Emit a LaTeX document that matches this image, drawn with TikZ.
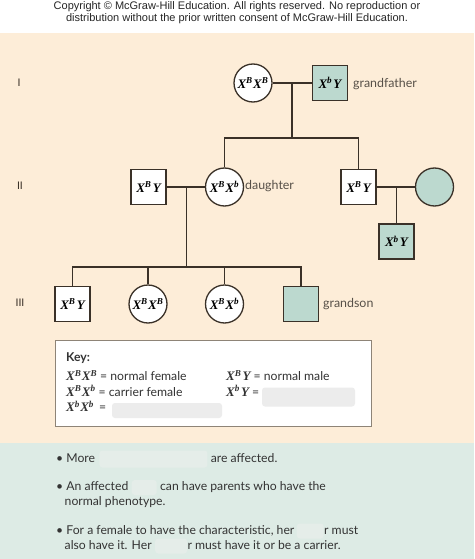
\documentclass[tikz,border=0pt]{standalone}
\usepackage{fontspec}
\setmainfont{Lato}
\newfontfamily\copyfont{Liberation Sans}
\newfontfamily\genofont{Liberation Serif}
\usetikzlibrary{positioning}

\definecolor{cream}{HTML}{FDEDD8}
\definecolor{sage}{HTML}{BCD9CF}
\definecolor{mint}{HTML}{DDEBE5}
\definecolor{ink}{HTML}{3A3128}
\definecolor{keyline}{HTML}{8E8477}
\definecolor{fogkey}{HTML}{ECECEC}
\definecolor{fogmint}{HTML}{E5EDE9}

\newcommand{\genF}[2]{{\genofont\fontsize{13}{15}\selectfont\bfseries\itshape X\textsuperscript{#1}\kern.4pt X\textsuperscript{#2}}}
\newcommand{\genM}[1]{{\genofont\fontsize{13}{15}\selectfont\bfseries\itshape X\textsuperscript{#1}\kern1.2pt Y}}

\begin{document}
\begin{tikzpicture}[x=1pt,y=-1pt,
  male/.style={draw=ink,line width=1.3pt,fill=white,minimum size=35pt,inner sep=0pt},
  female/.style={circle,draw=ink,line width=1.3pt,fill=white,minimum size=38pt,inner sep=0pt},
  affected/.style={fill=sage},
  link/.style={draw=ink,line width=1.3pt},
  tag/.style={anchor=west,inner sep=0pt,font=\fontsize{12.4}{14}\selectfont,text=ink!85},
  gen/.style={inner sep=0pt,font=\fontsize{10.5}{12}\selectfont,text=ink},
  txt/.style={inner sep=0pt,font=\fontsize{12.2}{14}\selectfont,text=black!80,text height=9pt,text depth=2.5pt},
  fog/.style={inner sep=0pt,rounded corners=3pt}]
\useasboundingbox (0,0) rectangle (474,559);
\fill[white] (0,0) rectangle (474,33);
\fill[cream] (0,33) rectangle (474,443);
\fill[mint] (0,443) rectangle (474,559);

% copyright line
\node[inner sep=0pt,align=center,font=\copyfont\fontsize{11}{12}\selectfont,text=black!85] (copy) at (237,12.5)
  {Copyright \textcopyright\ McGraw-Hill Education. All rights reserved. No reproduction or\\
   distribution without the prior written consent of McGraw-Hill Education.};

% generations
\node[gen] (gI) at (19,83) {I};
\node[gen] (gII) at (20,186) {II};
\node[gen] (gIII) at (20,303) {III};

% generation I
\node[female] (gma) at (253,83) {\genF{B}{B}};
\node[male,affected] (gpa) at (330,83) {\genM{b}};
\node[tag] (lgpa) at (353,84) {grandfather};
\coordinate (c1) at (292,83);
\coordinate (s1) at (292,138);

% generation II
\node[male] (dad) at (148.5,187) {\genM{B}};
\node[female] (mom) at (224.5,187) {\genF{B}{b}};
\node[tag] (lmom) at (245,186) {daughter};
\node[male] (uncle) at (358.5,187) {\genM{B}};
\node[female,affected] (aunt) at (434.5,187) {};
\node[male,affected] (cousin) at (396.5,241.5) {\genM{b}};
\coordinate (c2) at (186.5,187);
\coordinate (s2) at (186.5,267);
\coordinate (c3) at (396.5,187);

% generation III
\node[male] (k1) at (72.5,304) {\genM{B}};
\node[female] (k2) at (148,304) {\genF{B}{B}};
\node[female] (k3) at (224.5,304) {\genF{B}{b}};
\node[male,affected] (k4) at (301,304) {};
\node[tag] (lk4) at (323,304) {grandson};

% lines
\draw[link] (gma) -- (gpa);
\draw[link] (c1) -- (s1);
\draw[link] (mom.north) |- (s1);
\draw[link] (uncle.north) |- (s1);
\draw[link] (dad) -- (mom);
\draw[link] (uncle) -- (aunt);
\draw[link] (c3) -- (cousin.north);
\draw[link] (c2) -- (s2);
\foreach \k in {k1,k2,k3,k4}
  \draw[link] (\k.north) |- (s2);

% key
\draw[keyline,fill=white,line width=1pt] (55,340) rectangle (371,426);
\node[txt,anchor=west,font=\fontsize{12.2}{14}\selectfont\bfseries] (key) at (66,358) {Key:};
\node[txt,anchor=west] (kBB) at (66,377.5) {\genF{B}{B} = normal female};
\node[txt,anchor=west] (kBb) at (66,393) {\genF{B}{b} = carrier female};
\node[txt,anchor=west] (kbb) at (66,408.5) {\genF{b}{b} \,=};
\node[txt,anchor=west] (kBY) at (226,377.5) {\genM{B} = normal male};
\node[txt,anchor=west] (kbY) at (226,393) {\genM{b} =};
\node[fog,fill=fogkey,minimum width=93pt,minimum height=19pt] (fbY) at (308.5,397) {};
\node[fog,fill=fogkey,minimum width=110pt,minimum height=15pt] (fbb) at (167,410.5) {};

% notes
\node[txt,anchor=west] (n1) at (56,459) {\textbullet\ More};
\node[fog,fill=fogmint,minimum width=108pt,minimum height=17pt,right=4pt of n1] (f1) {};
\node[txt,right=3pt of f1] (n1e) {are affected.};
\node[txt,anchor=west] (n2) at (56,487.5) {\textbullet\ An affected};
\node[fog,fill=fogmint,minimum width=25pt,minimum height=15pt,right=3pt of n2] (f2) {};
\node[txt,right=3pt of f2] (n2e) {can have parents who have the};
\node[txt,anchor=west] (n3) at (64.5,502) {normal phenotype.};
\node[txt,anchor=west] (n4) at (56,531) {\textbullet\ For a female to have the characteristic, her};
\node[fog,fill=fogmint,minimum width=27pt,minimum height=15pt,right=2pt of n4] (f4) {};
\node[txt,right=0pt of f4] (n4e) {r must};
\node[txt,anchor=west] (n5) at (64.5,546) {also have it. Her};
\node[fog,fill=fogmint,minimum width=32pt,minimum height=15pt,right=3pt of n5] (f5) {};
\node[txt,right=0pt of f5] (n5e) {r must have it or be a carrier.};
\end{tikzpicture}
\end{document}
